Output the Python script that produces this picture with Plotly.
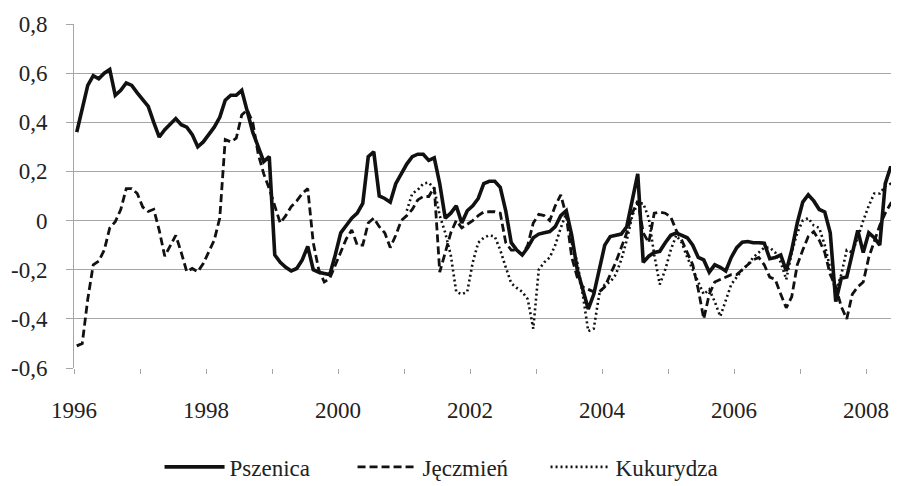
import plotly.graph_objects as go

# Monthly observations, Jan 1996 .. Jul 2008
start_year = 1996
n_months = 151
months = [start_year + (m + 0.5) / 12 for m in range(n_months)]

pszenica = [
    0.36, 0.45, 0.55, 0.59, 0.577, 0.60, 0.615, 0.51, 0.53, 0.56, 0.55, 0.52,
    0.49, 0.465, 0.40, 0.34, 0.37, 0.395, 0.415, 0.39, 0.38, 0.35, 0.30, 0.32,
    0.35, 0.38, 0.42, 0.49, 0.51, 0.51, 0.53, 0.44, 0.36, 0.30, 0.24, 0.26,
    -0.14, -0.17, -0.19, -0.205, -0.195, -0.16, -0.105, -0.20, -0.21, -0.215, -0.22, -0.14,
    -0.05, -0.02, 0.01, 0.03, 0.07, 0.26, 0.28, 0.10, 0.09, 0.075, 0.15, 0.19,
    0.23, 0.26, 0.27, 0.27, 0.245, 0.255, 0.15, 0.01, 0.03, 0.06, -0.01, 0.04,
    0.06, 0.09, 0.15, 0.16, 0.16, 0.135, 0.04, -0.09, -0.12, -0.14, -0.11, -0.07,
    -0.055, -0.05, -0.045, -0.025, 0.02, 0.04, -0.06, -0.20, -0.28, -0.36, -0.30, -0.20,
    -0.10, -0.065, -0.06, -0.055, -0.025, 0.08, 0.19, -0.17, -0.145, -0.13, -0.125, -0.09,
    -0.06, -0.05, -0.06, -0.07, -0.10, -0.15, -0.16, -0.21, -0.18, -0.19, -0.205, -0.15,
    -0.11, -0.088, -0.085, -0.09, -0.09, -0.092, -0.155, -0.15, -0.14, -0.205, -0.12, -0.01,
    0.075, 0.105, 0.08, 0.045, 0.035, -0.05, -0.33, -0.235, -0.23, -0.13, -0.04, -0.13,
    -0.05, -0.07, -0.10, 0.15, 0.22, 0.165, 0.11,
]

jeczmien = [
    -0.51, -0.50, -0.32, -0.18, -0.165, -0.12, -0.03, -0.005, 0.045, 0.13, 0.13, 0.11,
    0.055, 0.037, 0.046, -0.04, -0.145, -0.10, -0.06, -0.13, -0.208, -0.195, -0.208, -0.175,
    -0.13, -0.08, 0.01, 0.33, 0.32, 0.335, 0.43, 0.45, 0.40, 0.27, 0.19, 0.13,
    0.06, -0.01, 0.02, 0.057, 0.08, 0.11, 0.13, -0.09, -0.20, -0.25, -0.235, -0.18,
    -0.13, -0.075, -0.038, -0.10, -0.10, -0.01, 0.01, -0.025, -0.05, -0.11, -0.06, 0.0,
    0.02, 0.045, 0.084, 0.098, 0.098, 0.135, -0.21, -0.133, -0.05, 0.0, -0.03, -0.015,
    0.0, 0.02, 0.035, 0.036, 0.036, 0.03, -0.09, -0.12, -0.12, -0.14, -0.10, -0.01,
    0.025, 0.02, 0.0, 0.06, 0.105, 0.02, -0.15, -0.23, -0.27, -0.28, -0.29, -0.29,
    -0.27, -0.22, -0.17, -0.11, -0.05, 0.03, 0.08, -0.05, -0.09, 0.03, 0.035, 0.03,
    0.015, -0.04, -0.08, -0.13, -0.18, -0.28, -0.40, -0.30, -0.25, -0.24, -0.23, -0.22,
    -0.22, -0.20, -0.18, -0.16, -0.15, -0.18, -0.23, -0.24, -0.30, -0.355, -0.31, -0.18,
    -0.12, -0.065, -0.045, -0.08, -0.13, -0.22, -0.27, -0.35, -0.40, -0.30, -0.27, -0.25,
    -0.15, -0.08, -0.02, 0.03, 0.07, 0.09, 0.05,
]

kukurydza = [None] * 60 + [
    0.04, 0.11, 0.125, 0.15, 0.155, 0.13, 0.02, -0.05, -0.14, -0.29, -0.30, -0.29,
    -0.17, -0.09, -0.07, -0.06, -0.065, -0.12, -0.19, -0.255, -0.274, -0.29, -0.32, -0.44,
    -0.20, -0.17, -0.15, -0.10, -0.03, 0.03, -0.09, -0.17, -0.30, -0.45, -0.44, -0.30,
    -0.26, -0.25, -0.22, -0.16, -0.08, 0.02, 0.07, 0.07, 0.01, -0.14, -0.26, -0.20,
    -0.12, -0.06, -0.09, -0.15, -0.20, -0.25, -0.30, -0.28, -0.33, -0.39, -0.32, -0.26,
    -0.23, -0.20, -0.18, -0.15, -0.13, -0.11, -0.11, -0.13, -0.17, -0.24, -0.13, -0.05,
    0.0, 0.01, -0.02, -0.03, -0.10, -0.19, -0.29, -0.22, -0.12, -0.13, -0.07, 0.0,
    0.06, 0.11, 0.11, 0.14, 0.15, 0.11, 0.08,
]

series_names = ["Pszenica", "Jęczmień", "Kukurydza"]

y_tickvals = [-0.6, -0.4, -0.2, 0, 0.2, 0.4, 0.6, 0.8]
y_ticktext = ["-0,6", "-0,4", "-0,2", "0", "0,2", "0,4", "0,6", "0,8"]
x_tickvals = [1996, 1998, 2000, 2002, 2004, 2006, 2008]
x_ticktext = ["1996", "1998", "2000", "2002", "2004", "2006", "2008"]

FONT = "Liberation Serif"
GRID = "#a6a6a6"
INK = "#111111"
TXT = "#222222"

fig = go.Figure()
fig.add_trace(go.Scatter(x=months, y=pszenica, name=series_names[0], mode="lines",
                         line=dict(color=INK, width=3.6)))
fig.add_trace(go.Scatter(x=months, y=jeczmien, name=series_names[1], mode="lines",
                         line=dict(color=INK, width=2.8, dash="8px,4px")))
fig.add_trace(go.Scatter(x=months, y=kukurydza, name=series_names[2], mode="lines",
                         line=dict(color=INK, width=2.6, dash="2px,3px"),
                         connectgaps=False))

# the page adds an 8px body margin, so the figure is 8px smaller and offset
fig.update_layout(
    width=891, height=478,
    margin=dict(l=66, r=0, t=16, b=118, autoexpand=False),
    paper_bgcolor="white", plot_bgcolor="white",
    font=dict(family=FONT, size=23, color=TXT),
    showlegend=True,
    legend=dict(orientation="h", xref="container", yref="container",
                x=0.495, xanchor="center", y=0.04, yanchor="middle",
                font=dict(family=FONT, size=23, color=TXT),
                itemwidth=60, entrywidth=118, tracegroupgap=0,
                bgcolor="rgba(0,0,0,0)"),
    xaxis=dict(range=[1996, 2008.5], tickvals=x_tickvals, ticktext=x_ticktext,
               automargin=False,
               ticks="outside", ticklen=5, tickcolor=GRID, tickwidth=1,
               showgrid=False, zeroline=False, showline=False,
               ticklabelstandoff=16,
               minor=dict(dtick=1, tick0=1996, ticks="outside", ticklen=5,
                          tickcolor=GRID, tickwidth=1, showgrid=False),
               tickfont=dict(family=FONT, size=23, color=TXT)),
    yaxis=dict(range=[-0.6, 0.8], tickvals=y_tickvals, ticktext=y_ticktext,
               automargin=False,
               ticks="outside", ticklen=7, tickcolor=GRID, tickwidth=1,
               showgrid=True, gridcolor=GRID, gridwidth=1,
               zeroline=True, zerolinecolor=GRID, zerolinewidth=1,
               showline=True, linecolor=GRID, linewidth=1,
               ticklabelstandoff=14,
               tickfont=dict(family=FONT, size=23, color=TXT)),
)

fig.write_html("out.html")
